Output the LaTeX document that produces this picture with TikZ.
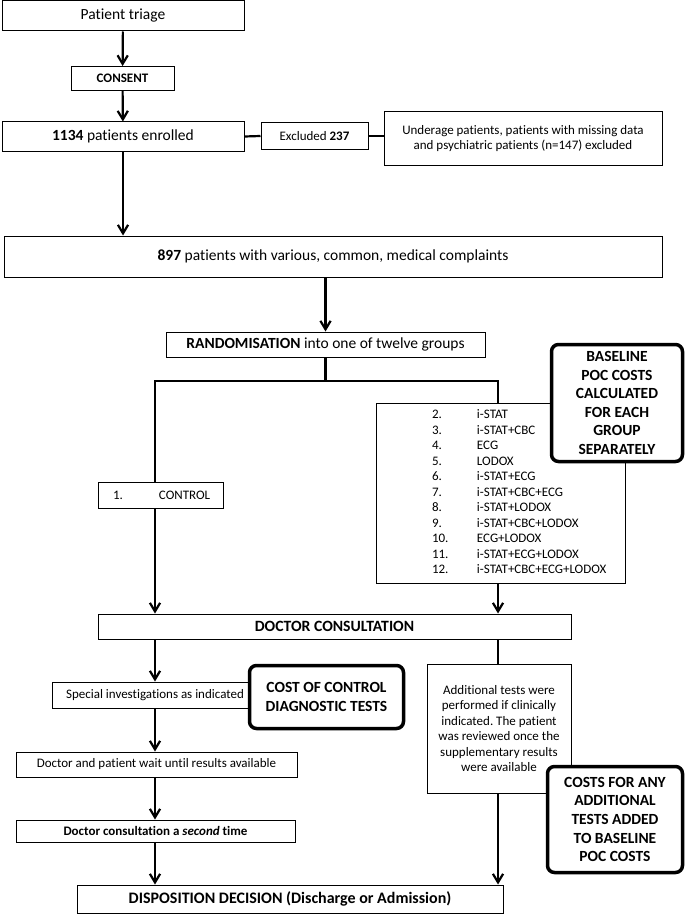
\documentclass[tikz,border=0pt]{standalone}
\usepackage{fontspec}
\setmainfont{Carlito}[Ligatures=NoCommon]
\usetikzlibrary{arrows.meta,positioning,calc}
\frenchspacing
\tikzset{
  stage/.style={rectangle,draw=black,line width=1pt,fill=white,align=center,inner sep=2pt,font=\fontsize{15.5}{18}\selectfont},
  stagesmall/.style={stage,font=\fontsize{13}{15.5}\selectfont},
  costcard/.style={rectangle,rounded corners=7pt,draw=black,line width=3.5pt,fill=white,align=center,inner sep=2pt,font=\fontsize{15.5}{18.6}\selectfont\bfseries},
  arrow/.style={-{Straight Barb[length=3mm,width=3.6mm]},line width=2.2pt},
  link/.style={line width=2.2pt}
}

\begin{document}
\begin{tikzpicture}[x=1pt,y=-1pt]
    \useasboundingbox (0,0) rectangle (685,915);
    % enrolment
    \node[stage,minimum width=242pt,minimum height=30pt] (triage) at (123,16) {Patient triage};
    \node[stagesmall,minimum width=103pt,minimum height=24pt,font=\fontsize{13}{15.5}\selectfont\bfseries] (consent) at (122.5,78.5) {CONSENT};
    \node[stage,minimum width=242pt,minimum height=29pt] (enrolled) at (123,136.5) {\textbf{1134} patients enrolled};
    \node[stagesmall,minimum width=107pt,minimum height=26pt] (excl) at (314.5,136) {Excluded \textbf{237}};
    \node[stagesmall,minimum width=278pt,minimum height=53pt] (reasons) at (523,138.5) {Underage patients, patients with missing data\\and psychiatric patients (n=147) excluded};
    \node[stage,minimum width=658pt,minimum height=41pt] (cohort) at (333,256.5) {\textbf{897} patients with various, common, medical complaints};
    \node[stage,minimum width=319pt,minimum height=25pt] (rand) at (325.5,344.5) {\textbf{RANDOMISATION} into one of twelve groups};
    \draw[arrow] (triage) -- (consent);
    \draw[arrow] (consent) -- (enrolled);
    \draw[link] (enrolled.east) -- (excl.west);
    \draw[link] (excl.east) -- (excl.east -| reasons.west);
    \draw[arrow] (enrolled.south) -- (enrolled.south |- cohort.north);
    \draw[arrow] (rand.north |- cohort.south) -- (rand.north);

    % the twelve groups
    \coordinate (lbar) at (155,381);
    \coordinate (rbar) at (498,381);
    \node[stagesmall,minimum width=125pt,minimum height=26pt,text width=121pt,align=left] (control) at (160.5,495) {\hspace*{13pt}\makebox[46pt][l]{1.}CONTROL};
    \node[stagesmall,minimum width=249pt,minimum height=180pt,text width=245pt,align=left] (groups) at (500.5,493) {\hspace*{54pt}\begin{tabular}{@{}p{45pt}@{}l@{}}
      2. & i-STAT\\
      3. & i-STAT+CBC\\
      4. & ECG\\
      5. & LODOX\\
      6. & i-STAT+ECG\\
      7. & i-STAT+CBC+ECG\\
      8. & i-STAT+LODOX\\
      9. & i-STAT+CBC+LODOX\\
      10. & ECG+LODOX\\
      11. & i-STAT+ECG+LODOX\\
      12. & i-STAT+CBC+ECG+LODOX
    \end{tabular}};
    \node[costcard,minimum width=131pt,minimum height=117pt] (baseline) at (617,403) {BASELINE\\POC COSTS\\CALCULATED\\FOR EACH\\GROUP\\SEPARATELY};
    \draw[link] (rand.south) -- (rand.south |- lbar);
    \draw[link] (control.north -| lbar) -- (lbar) -- (rbar) -- (rbar |- groups.north);

    % consultation
    \node[stage,minimum width=473pt,minimum height=25pt,font=\fontsize{15.7}{18}\selectfont\bfseries] (doctor) at (334.5,626.5) {DOCTOR CONSULTATION};
    \draw[arrow] (control.south -| lbar) -- (doctor.north -| lbar);
    \draw[arrow] (groups.south -| rbar) -- (doctor.north -| rbar);

    % control arm
    \node[stagesmall,minimum width=206pt,minimum height=26pt] (special) at (155,695) {Special investigations as indicated};
    \node[costcard,minimum width=154pt,minimum height=63pt] (costctl) at (326.5,697) {COST OF CONTROL\\DIAGNOSTIC TESTS};
    \node[stagesmall,minimum width=281pt,minimum height=25pt] (wait) at (156.5,764.5) {Doctor and patient wait until results available};
    \node[stagesmall,minimum width=279pt,minimum height=22pt,font=\fontsize{13}{15.5}\selectfont\bfseries] (second) at (155.5,831) {Doctor consultation a \textit{second} time};
    \draw[arrow] (doctor.south -| lbar) -- (special.north -| lbar);
    \draw[arrow] (special.south -| lbar) -- (wait.north -| lbar);
    \draw[arrow] (wait.south -| lbar) -- (second.north -| lbar);

    % POC arm
    \node[stagesmall,minimum width=144pt,minimum height=129pt] (addl) at (499,728.5) {Additional tests were\\performed if clinically\\indicated. The patient\\was reviewed once the\\supplementary results\\were available};
    \node[costcard,minimum width=135pt,minimum height=106pt] (costadd) at (615,819.5) {COSTS FOR ANY\\ADDITIONAL\\TESTS ADDED\\TO BASELINE\\POC COSTS};
    \draw[link] (doctor.south -| rbar) -- (addl.north -| rbar);

    % outcome
    \node[stage,minimum width=426pt,minimum height=28pt,font=\fontsize{16}{18}\selectfont\bfseries] (disp) at (290,899) {DISPOSITION DECISION (Discharge or Admission)};
    \draw[arrow] (second.south -| lbar) -- (disp.north -| lbar);
    \draw[arrow] (addl.south -| rbar) -- (disp.north -| rbar);
\end{tikzpicture}
\end{document}
